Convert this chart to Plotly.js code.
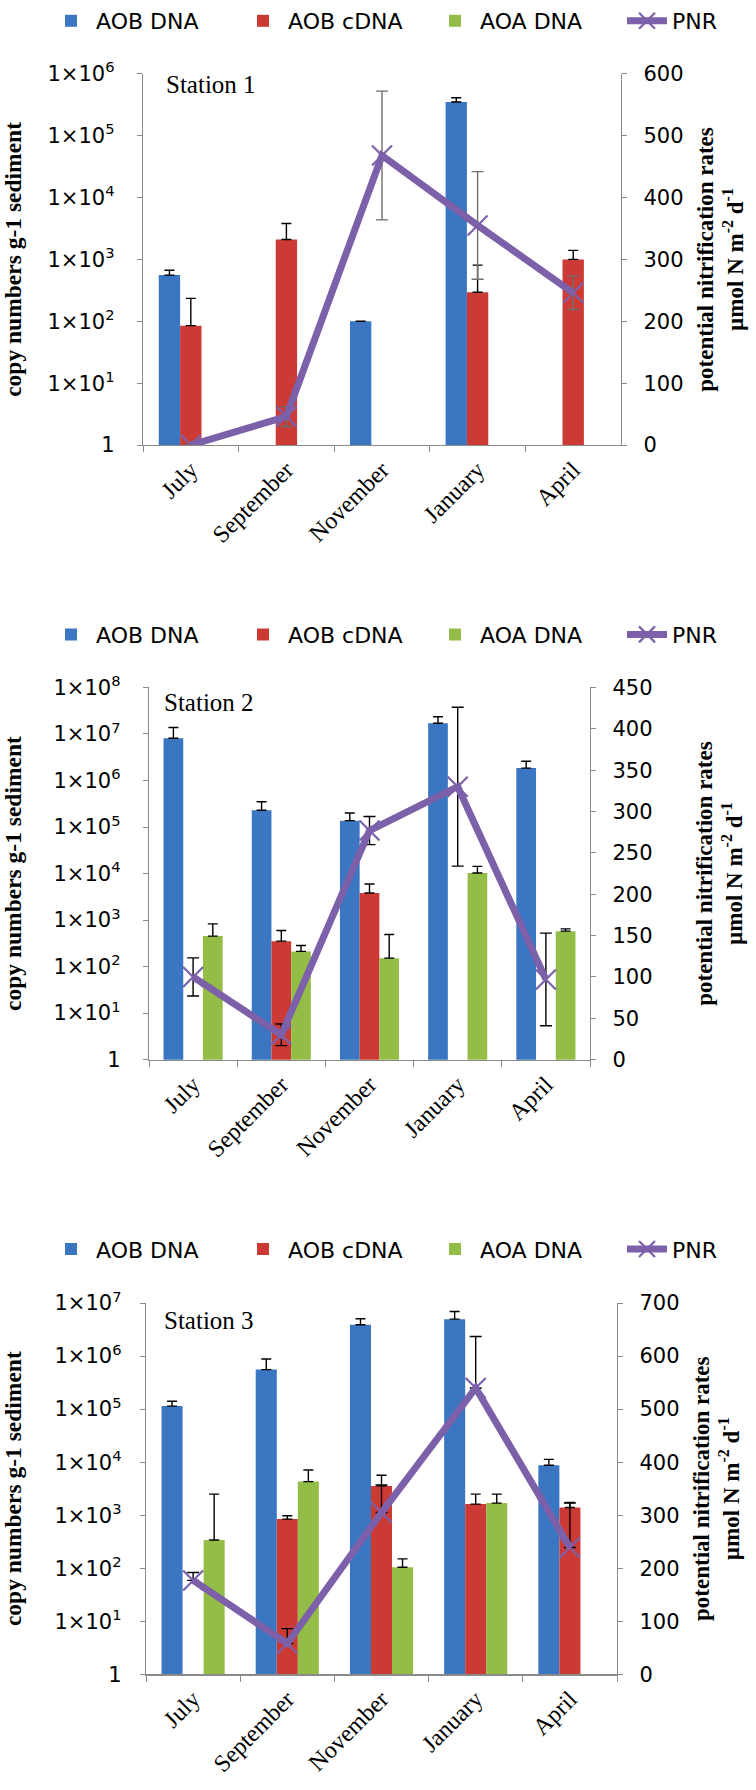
<!DOCTYPE html>
<html>
<head>
<meta charset="utf-8">
<script src="https://cdn.plot.ly/plotly-3.0.1.min.js"></script>
<style>
  html, body { margin: 0; padding: 0; background: #fff; }
  #chart { width: 756px; height: 1790px; }
</style>
</head>
<body>
<div id="chart"></div>
<script>
var months = ['July', 'September', 'November', 'January', 'April'];

// Station 1 (copy numbers g-1 sediment, errors are the upper bar only)
var s1AobDna = [558, null, 100, 350000, null];
var s1AobDnaErr = [112, null, null, 60000, null];
var s1AobCdna = [85, 2100, null, 295, 1000];
var s1AobCdnaErr = [150, 1700, null, 515, 400];
var s1AoaDna = [null, null, null, null, null];
var s1AoaDnaErr = [null, null, null, null, null];
var s1Pnr = [0, 46, 468, 355, 246];
var s1PnrErr = [null, 16, 104, 87, 27];

// Station 2
var s2AobDna = [8100000, 230000, 137000, 17000000, 1850000];
var s2AobDnaErr = [5700000, 120000, 63000, 6400000, 750000];
var s2AobCdna = [null, 352, 3830, null, null];
var s2AobCdnaErr = [null, 246, 2150, null, null];
var s2AoaDna = [452, 212, 152, 10300, 578];
var s2AoaDnaErr = [378, 73, 339, 4000, 69];
var s2Pnr = [100, 30, 277, 330, 97];
var s2PnrErr = [23, 13, 17, 96, 56];

// Station 3
var s3AobDna = [114000, 557000, 3900000, 4980000, 8720];
var s3AobDnaErr = [27000, 323000, 1170000, 1970000, 2580];
var s3AobCdna = [null, 844, 3570, 1620, 1400];
var s3AobCdnaErr = [null, 131, 2100, 880, 340];
var s3AoaDna = [340, 4300, 104, 1690, null];
var s3AoaDnaErr = [2160, 2800, 46, 810, null];
var s3Pnr = [177, 58, 305, 540, 239];
var s3PnrErr = [15, 28, 52, 97, 84];   // only the upper half is drawn

var BLUE = '#3a76c2';
var RED = '#cc3a35';
var GREEN = '#93bd46';
var PURPLE = '#7c60a9';
var SANS = '"DejaVu Sans", "Liberation Sans", sans-serif';
var SERIF = '"Liberation Serif", "Times New Roman", serif';
var AXIS_GREY = '#8a8a8a';

var W = 756, H = 1790;

function zeroMinus(arr) {
    return arr.map(function (v) { return v == null ? null : 0; });
}

function barTrace(n, name, color, y, err) {
    var sfx = n === 1 ? '' : String(n);
    return {
        type: 'bar',
        name: name,
        x: months,
        y: y,
        xaxis: 'x' + sfx,
        yaxis: 'y' + sfx,
        legend: 'legend' + sfx,
        marker: { color: color },
        error_y: {
            type: 'data', symmetric: false,
            array: err, arrayminus: zeroMinus(err),
            color: '#000', thickness: 1.4, width: 5
        }
    };
}

function pnrTrace(n, y, err, plusOnly, errColor) {
    var sfx = n === 1 ? '' : String(n);
    var e = { type: 'data', array: err, color: errColor, thickness: 1.4, width: 6 };
    if (plusOnly) {
        e.symmetric = false;
        e.arrayminus = zeroMinus(err);
    }
    return {
        type: 'scatter',
        mode: 'lines+markers',
        name: 'PNR',
        x: months,
        y: y,
        xaxis: 'x' + sfx,
        yaxis: 'y' + (n + 3),
        legend: 'legend' + sfx,
        legendwidth: 50,
        line: { color: PURPLE, width: 7 },
        marker: { symbol: 'x-thin', size: 20, color: '#8a70bd', line: { width: 2.2 } },
        error_y: e
    };
}

function logTicks(maxExp) {
    var vals = [], text = [];
    for (var i = 0; i <= maxExp; i++) {
        vals.push(Math.pow(10, i));
        text.push(i === 0 ? '1' : '1\u00d710<sup>' + i + '</sup>');
    }
    return { vals: vals, text: text };
}

// pixel box of each plot area -> paper domain
function xDomain(l, r) { return [l / W, r / W]; }
function yDomain(t, b) { return [1 - b / H, 1 - t / H]; }

function xAxis(l, r, anchor) {
    return {
        domain: xDomain(l, r), anchor: anchor,
        type: 'category', categoryorder: 'array', categoryarray: months,
        tickson: 'boundaries', ticks: 'outside', ticklen: 6, tickcolor: AXIS_GREY,
        showline: true, linecolor: AXIS_GREY, linewidth: 1.3,
        showgrid: false, tickangle: -45,
        tickfont: { family: SERIF, size: 24, color: '#000' }
    };
}

function leftAxis(t, b, anchor, maxExp, labelGap, titleGap) {
    var tk = logTicks(maxExp);
    return {
        domain: yDomain(t, b), anchor: anchor,
        type: 'log', range: [0, maxExp],
        tickmode: 'array', tickvals: tk.vals, ticktext: tk.text,
        ticks: 'outside', ticklen: 5, tickcolor: AXIS_GREY,
        ticklabelstandoff: labelGap,
        showline: true, linecolor: AXIS_GREY, linewidth: 1.3,
        showgrid: false, zeroline: false,
        tickfont: { family: SANS, size: 21, color: '#000' },
        title: {
            text: 'copy numbers g-1 sediment',
            font: { family: SERIF, size: 23.5, weight: 'bold', color: '#000' },
            standoff: titleGap
        }
    };
}

function rightAxis(overlay, anchor, max, step, titleGap) {
    return {
        overlaying: overlay, anchor: anchor, side: 'right',
        range: [0, max], dtick: step,
        ticks: 'outside', ticklen: 5, tickcolor: AXIS_GREY,
        ticklabelstandoff: 12,
        showline: true, linecolor: AXIS_GREY, linewidth: 1.3,
        showgrid: false, zeroline: false,
        tickfont: { family: SANS, size: 21, color: '#000' },
        title: {
            text: 'potential nitrification rates<br>\u00b5mol N m<sup>-2</sup> d<sup>-1</sup>',
            font: { family: SERIF, size: 23, weight: 'bold', color: '#000' },
            standoff: titleGap
        }
    };
}

function legendAt(yPx) {
    return {
        orientation: 'h', x: 46 / W, xanchor: 'left',
        y: 1 - yPx / H, yanchor: 'middle',
        itemwidth: 40, entrywidth: 137, entrywidthmode: 'pixels',
        font: { family: SANS, size: 22, color: '#000' },
        bgcolor: 'rgba(0,0,0,0)', traceorder: 'normal'
    };
}

function stationLabel(n, xFrac, yFrac) {
    var sfx = n === 1 ? '' : String(n);
    return {
        text: 'Station ' + n,
        xref: 'x' + sfx + ' domain', yref: 'y' + sfx + ' domain',
        x: xFrac, y: yFrac, xanchor: 'left', yanchor: 'middle',
        showarrow: false,
        font: { family: SERIF, size: 25, color: '#000' }
    };
}

var data = [
    barTrace(1, 'AOB DNA', BLUE, s1AobDna, s1AobDnaErr),
    barTrace(1, 'AOB cDNA', RED, s1AobCdna, s1AobCdnaErr),
    barTrace(1, 'AOA DNA', GREEN, s1AoaDna, s1AoaDnaErr),
    pnrTrace(1, s1Pnr, s1PnrErr, false, '#6f6f6f'),

    barTrace(2, 'AOB DNA', BLUE, s2AobDna, s2AobDnaErr),
    barTrace(2, 'AOB cDNA', RED, s2AobCdna, s2AobCdnaErr),
    barTrace(2, 'AOA DNA', GREEN, s2AoaDna, s2AoaDnaErr),
    pnrTrace(2, s2Pnr, s2PnrErr, false, '#000'),

    barTrace(3, 'AOB DNA', BLUE, s3AobDna, s3AobDnaErr),
    barTrace(3, 'AOB cDNA', RED, s3AobCdna, s3AobCdnaErr),
    barTrace(3, 'AOA DNA', GREEN, s3AoaDna, s3AoaDnaErr),
    pnrTrace(3, s3Pnr, s3PnrErr, true, '#000')
];

var layout = {
    width: W, height: H,
    margin: { l: 0, r: 0, t: 0, b: 0 },
    paper_bgcolor: '#fff', plot_bgcolor: '#fff',
    barmode: 'group', bargap: 0.33, bargroupgap: 0,
    font: { family: SANS, size: 20, color: '#000' },
    showlegend: true,
    hovermode: false,

    xaxis: xAxis(143, 621, 'y'),
    yaxis: leftAxis(70, 442, 'x', 6, 18, 26),
    yaxis4: rightAxis('y', 'x', 600, 100, 14),

    xaxis2: xAxis(149, 590, 'y2'),
    yaxis2: leftAxis(685, 1058, 'x2', 8, 18, 26),
    yaxis5: rightAxis('y2', 'x2', 450, 50, 44),

    xaxis3: xAxis(146, 617, 'y3'),
    yaxis3: leftAxis(1302, 1674, 'x3', 7, 14, 30),
    yaxis6: rightAxis('y3', 'x3', 700, 100, 14),

    legend: legendAt(17),
    legend2: legendAt(632),
    legend3: legendAt(1248),

    annotations: [
        stationLabel(1, 0.044, 0.971),
        stationLabel(2, 0.03, 0.96),
        stationLabel(3, 0.034, 0.952)
    ]
};

Plotly.newPlot('chart', data, layout, { displayModeBar: false, staticPlot: true });
</script>
</body>
</html>
